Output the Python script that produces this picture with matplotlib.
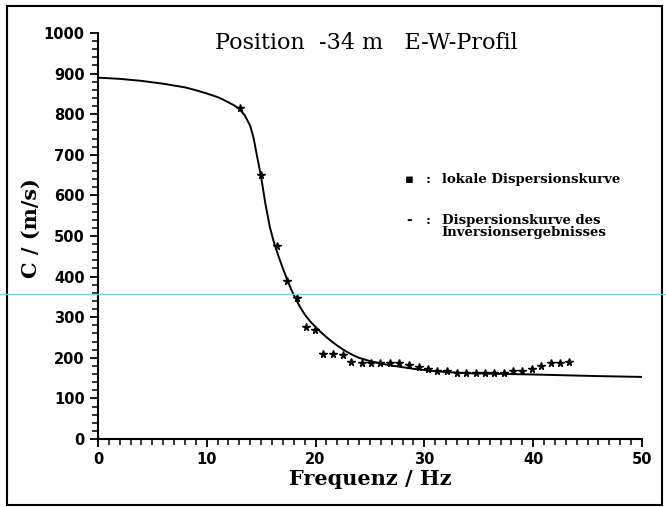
import numpy as np
import matplotlib.pyplot as plt
from matplotlib.lines import Line2D
from matplotlib.patches import Rectangle

# lokale Dispersionskurve (Messpunkte)
f_mess = [13.1, 15.0, 16.5, 17.4, 18.3, 19.1, 19.95, 20.7, 21.6, 22.5, 23.3, 24.3,
          25.1, 25.9, 26.8, 27.7, 28.6, 29.5, 30.3, 31.2, 32.1, 33.0, 33.8, 34.7,
          35.6, 36.4, 37.3, 38.1, 39.0, 39.9, 40.7, 41.6, 42.5, 43.3]
c_mess = [815, 650, 475, 390, 347, 276, 268, 209, 209, 207, 190, 187,
          187, 187, 187, 187, 182, 177, 172, 167, 167, 163, 163, 163,
          163, 163, 163, 167, 167, 172, 180, 187, 187, 190]

# Dispersionskurve des Inversionsergebnisses
f_inv = [0, 2, 4, 6, 8, 9, 10, 11, 11.5, 12, 12.5, 13, 13.5, 14, 14.3, 14.6,
         15.0, 15.4, 15.8, 16.2, 16.6, 17.0, 17.4, 17.8, 18.2, 18.6, 19.0,
         19.5, 20.0, 20.5, 21.0, 21.5, 22.0, 22.5, 23.0, 23.5, 24.0, 25, 26,
         27, 28, 29, 30, 31, 32, 34, 36, 38, 40, 43, 46, 50]
c_inv = [890, 887, 882, 875, 866, 859, 851, 842, 836, 829, 822, 813, 797,
         771, 742, 700, 645, 578, 522, 482, 450, 420, 392, 366, 344, 324, 307,
         290, 276, 263, 251, 240, 230, 221, 213, 206, 200, 192, 186, 181, 177,
         173, 170, 167, 165, 162, 161, 160, 159, 157, 155, 153]

xticks = [0, 10, 20, 30, 40, 50]
yticks = [0, 100, 200, 300, 400, 500, 600, 700, 800, 900, 1000]

fig = plt.figure(figsize=(6.66, 5.07), dpi=100)
ax = fig.add_axes([0.147, 0.134, 0.817, 0.801])

ax.plot(f_inv, c_inv, color='black', linewidth=1.4)
ax.plot(f_mess, c_mess, linestyle='none', marker='*', markersize=5.5,
        color='black')

ax.set_xlim(0, 50)
ax.set_ylim(0, 1000)
ax.spines['top'].set_visible(False)
ax.spines['right'].set_visible(False)
ax.spines['left'].set_linewidth(1.5)
ax.spines['bottom'].set_linewidth(1.5)

ax.set_xticks(xticks)
ax.set_yticks(yticks)
ax.set_xticks(np.arange(0, 51, 1), minor=True)
ax.set_yticks(np.arange(0, 1001, 20), minor=True)
ax.tick_params(which='major', length=6, width=1.3, labelsize=10.5)
ax.tick_params(which='minor', length=4, width=1.1)
for lab in ax.get_xticklabels() + ax.get_yticklabels():
    lab.set_fontweight('bold')

ax.set_xlabel('Frequenz / Hz', family='DejaVu Serif', fontweight='bold',
              fontsize=15, labelpad=1)
ax.set_ylabel('C / (m/s)', family='DejaVu Serif', fontweight='bold',
              fontsize=15, labelpad=12)
ax.yaxis.set_label_coords(-0.105, 0.52)

fig.text(0.55, 0.915, 'Position  -34 m   E-W-Profil', family='DejaVu Serif',
         fontsize=16, ha='center', va='center')

leg = dict(transform=ax.transAxes, family='DejaVu Serif', fontweight='bold',
           fontsize=9.5, va='center')
ax.text(0.564, 0.640, '\u25aa', **leg)
ax.text(0.603, 0.640, ':', **leg)
ax.text(0.632, 0.640, 'lokale Dispersionskurve', **leg)
ax.text(0.566, 0.537, '-', **leg)
ax.text(0.603, 0.537, ':', **leg)
ax.text(0.632, 0.537, 'Dispersionskurve des', **leg)
ax.text(0.632, 0.508, 'Inversionsergebnisses', **leg)

# Rahmen und Scan-Linie
fig.add_artist(Rectangle((0.011, 0.004), 0.983, 0.984, fill=False,
                         edgecolor='black', linewidth=1.5,
                         transform=fig.transFigure))
fig.add_artist(Line2D([0, 1], [0.42, 0.42], color='#5fdde6', linewidth=1,
                      transform=fig.transFigure))

fig.savefig('out.png', dpi=100)
